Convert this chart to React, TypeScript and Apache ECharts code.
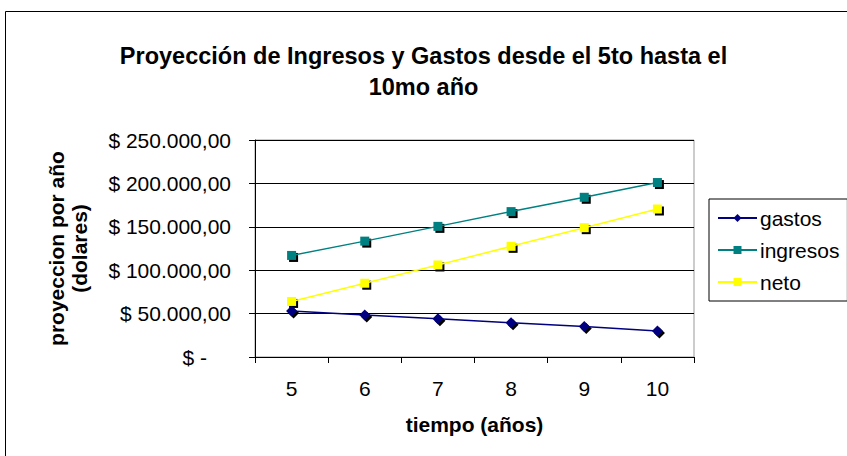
import React, { useEffect, useRef } from "react";
import * as echarts from "echarts";

const years = ["5", "6", "7", "8", "9", "10"];
const gastos = [53000, 48500, 44000, 39500, 35000, 30000];
const ingresos = [117000, 133500, 150500, 167500, 184000, 201000];
const neto = [64000, 85000, 106000, 127500, 149000, 170500];
const seriesNames = ["gastos", "ingresos", "neto"];

const FONT = "Liberation Sans, Arial, sans-serif";

function fmt(v: number): string {
  if (v === 0) return "{z|$ -}";
  const s = Math.round(v).toString().replace(/\B(?=(\d{3})+(?!\d))/g, ".");
  return "$ " + s + ",00";
}

export default function App() {
  const ref = useRef<HTMLDivElement>(null);
  useEffect(() => {
    document.body.style.margin = "0";
    const chart = echarts.init(ref.current!, null, { renderer: "svg" });
    const mk = (name: string, data: number[], color: string, symbol: string, size: number) => [
      {
        name: name + "_shadow",
        type: "line",
        data,
        symbol,
        symbolSize: size,
        symbolOffset: [2, 2],
        showSymbol: true,
        lineStyle: { width: 0, opacity: 0 },
        itemStyle: { color: "#000", borderWidth: 0 },
        silent: true,
        z: 2,
      },
      {
        name,
        type: "line",
        data,
        symbol,
        symbolSize: size,
        showSymbol: true,
        lineStyle: { color, width: 1.5 },
        itemStyle: { color, borderWidth: 0 },
        z: 3,
      },
    ];
    chart.setOption({
      animation: false,
      backgroundColor: "#fff",
      textStyle: { fontFamily: FONT },
      title: {
        text: "Proyección de Ingresos y Gastos desde el 5to hasta el\n10mo año",
        left: "center",
        top: 35,
        textStyle: { fontFamily: FONT, fontWeight: "bold", fontSize: 23.5, lineHeight: 31, color: "#000" },
      },
      legend: {
        data: seriesNames,
        orient: "vertical",
        left: 709,
        top: 199,
        padding: [8, 8, 8, 8],
        itemWidth: 39,
        itemHeight: 10,
        itemGap: 10,
        itemStyle: { borderWidth: 0 },
        borderColor: "#000",
        borderWidth: 1,
        backgroundColor: "#fff",
        textStyle: { fontFamily: FONT, fontSize: 21, color: "#000", lineHeight: 22, padding: [0, 0, 0, -2] },
      },
      graphic: [
        {
          type: "rect",
          shape: { x: 5.5, y: 11.5, width: 900, height: 500 },
          style: { fill: "none", stroke: "#000", lineWidth: 1 },
          z: 0,
          silent: true,
        },
      ],
      grid: { left: 255, right: 153, top: 140, bottom: 99, show: true, borderColor: "#999", borderWidth: 1 },
      xAxis: {
        type: "category",
        data: years,
        boundaryGap: true,
        name: "tiempo (años)",
        nameLocation: "middle",
        nameGap: 57,
        nameTextStyle: { fontFamily: FONT, fontWeight: "bold", fontSize: 21, color: "#000" },
        axisLine: { lineStyle: { color: "#000", width: 1 } },
        axisTick: { show: true, length: 6, inside: false, lineStyle: { color: "#000" } },
        axisLabel: { fontFamily: FONT, fontSize: 21, color: "#000", margin: 21 },
        splitLine: { show: false },
      },
      yAxis: {
        type: "value",
        min: 0,
        max: 250000,
        interval: 50000,
        name: "proyeccion por año\n(dolares)",
        nameLocation: "middle",
        nameGap: 164,
        nameTextStyle: { fontFamily: FONT, fontWeight: "bold", fontSize: 21, color: "#000", lineHeight: 23 },
        axisLine: { show: true, lineStyle: { color: "#000", width: 1 } },
        axisTick: { show: true, length: 6, lineStyle: { color: "#000" } },
        axisLabel: {
          fontFamily: FONT,
          fontSize: 21,
          color: "#000",
          margin: 24,
          formatter: fmt,
          rich: { z: { fontFamily: FONT, fontSize: 21, color: "#000", padding: [0, 24, 0, 0] } },
        },
        splitLine: { show: true, lineStyle: { color: "#000", width: 1 } },
      },
      series: [
        ...mk("gastos", gastos, "#000080", "diamond", 11),
        ...mk("ingresos", ingresos, "#008080", "rect", 9),
        ...mk("neto", neto, "#FFFF00", "rect", 9),
      ],
    });
    return () => chart.dispose();
  }, []);
  return (
    <div
      ref={ref}
      style={{ position: "fixed", left: 0, top: 0, width: 847, height: 456 }}
    />
  );
}
